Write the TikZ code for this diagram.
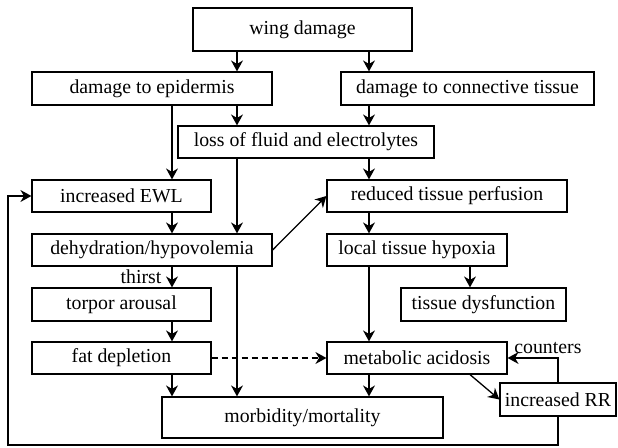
\documentclass[tikz,border=0pt]{standalone}
\usepackage{fontspec}
\setmainfont{LiberationSerif}[Extension=.ttf,UprightFont=*-Regular,BoldFont=*-Bold]
\usetikzlibrary{arrows.meta}
\tikzset{
  box/.style={draw, line width=0.6pt, inner sep=0pt, minimum height=16.5pt},
  flow/.style={-{Stealth[length=5.5pt,width=6pt,inset=1.8pt]}, line width=0.65pt},
}
\begin{document}
\begin{tikzpicture}[x=0.5pt,y=-0.5pt,font=\fontsize{9.9}{12}\selectfont]
        \useasboundingbox (0,0) rectangle (618,448);
        % boxes
        \node[box,minimum width=109.5pt,minimum height=21.5pt] (wing) at (302.5,29.5) {wing damage};
        \node[box,minimum width=120pt] (epi) at (152,88.5) {damage to epidermis};
        \node[box,minimum width=126.5pt] (conn) at (467.5,88.5) {damage to connective tissue};
        \node[box,minimum width=128pt,minimum height=16pt] (loss) at (306,142) {loss of fluid and electrolytes};
        \node[box,minimum width=89.5pt,minimum height=16pt] (ewl) at (121.5,196) {increased EWL};
        \node[box,minimum width=120pt,minimum height=16pt] (perf) at (447,196) {reduced tissue perfusion};
        \node[box,minimum width=120pt,minimum height=16pt] (dehyd) at (152,250) {dehydration/hypovolemia};
        \node[box,minimum width=90pt,minimum height=16pt] (hypox) at (417,250) {local tissue hypoxia};
        \node[box,minimum width=89.5pt] (torpor) at (121.5,304.5) {torpor arousal};
        \node[box,minimum width=82.5pt] (dysf) at (483.5,304.5) {tissue dysfunction};
        \node[box,minimum width=89.5pt,minimum height=16pt] (fat) at (121.5,358) {fat depletion};
        \node[box,minimum width=90pt,minimum height=16pt] (acid) at (417,358) {metabolic acidosis};
        \node[box,minimum width=140.5pt,minimum height=20.5pt] (morb) at (302.5,417.5) {morbidity/mortality};
        \node[box,minimum width=58pt] (rr) at (558,399.5) {increased RR};
        % columns of the arrows
        \coordinate (ca) at (172,0);
        \coordinate (cb) at (237,0);
        \coordinate (cc) at (369,0);
        \coordinate (cd) at (470,0);
        \coordinate (loop) at (8,445);
        % arrows
        \draw[flow] (wing.south -| cb) -- (epi.north -| cb);
        \draw[flow] (wing.south -| cc) -- (conn.north -| cc);
        \draw[flow] (epi.south -| cb) -- (loss.north -| cb);
        \draw[flow] (conn.south -| cc) -- (loss.north -| cc);
        \draw[flow] (epi.south -| ca) -- (ewl.north -| ca);
        \draw[flow] (loss.south -| cc) -- (perf.north -| cc);
        \draw[flow] (loss.south -| cb) -- (dehyd.north -| cb);
        \draw[flow] (ewl.south -| ca) -- (dehyd.north -| ca);
        \draw[flow] (dehyd.east) -- (perf.west);
        \draw[flow] (dehyd.south -| ca) -- node[left,inner sep=5pt] {thirst} (torpor.north -| ca);
        \draw[flow] (torpor.south -| ca) -- (fat.north -| ca);
        \draw[flow] (fat.south -| ca) -- (morb.north -| ca);
        \draw[flow] (dehyd.south -| cb) -- (morb.north -| cb);
        \draw[flow,dash pattern=on 3pt off 2pt] (fat.east) -- (acid.west);
        \draw[flow] (perf.south -| cc) -- (hypox.north -| cc);
        \draw[flow] (hypox.south -| cd) -- (dysf.north -| cd);
        \draw[flow] (hypox.south -| cc) -- (acid.north -| cc);
        \draw[flow] (acid.south -| cc) -- (morb.north -| cc);
        \draw[flow] (acid.south -| cd) -- (rr.west);
        \draw[flow] (rr.north) |- node[pos=0.6,above,inner sep=2pt] {counters} (acid.east);
        \draw[flow] (rr.south) |- (loop) |- (ewl.west);
    \end{tikzpicture}
\end{document}
